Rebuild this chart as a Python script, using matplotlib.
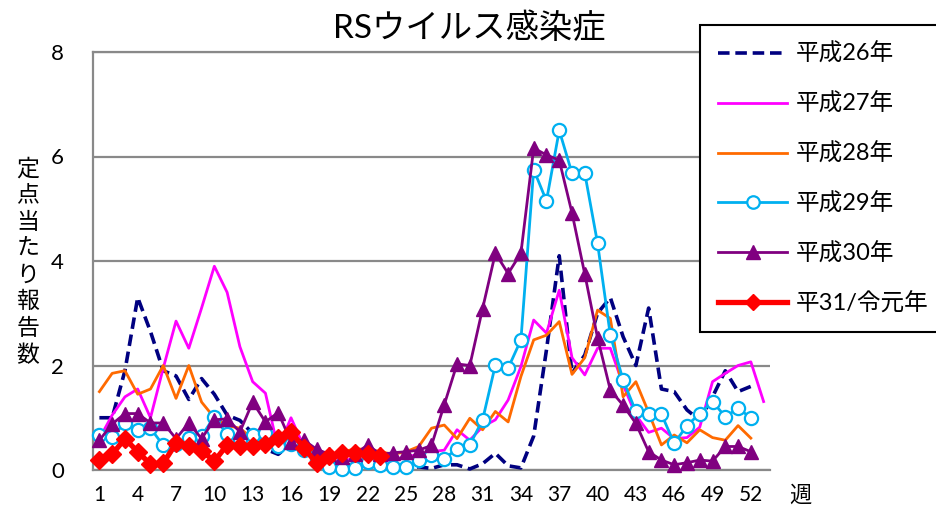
import matplotlib
matplotlib.use('Agg')
import matplotlib.pyplot as plt
import numpy as np
import copy

plt.rcParams['font.family'] = ['Lato', 'Noto Sans CJK JP', 'DejaVu Sans']

# ---- data ----
weeks = list(range(1, 54))
tick_weeks = list(range(1, 53, 3))
title = 'RSウイルス感染症'
ylabel = '定点当たり報告数'
xlabel = '週'
labels = ['平成26年', '平成27年', '平成28年', '平成29年', '平成30年', '平31/令元年']

h26 = [1.0, 1.0, 1.9, 3.3, 2.65, 1.9, 1.8, 1.35, 1.75, 1.45,
       1.05, 0.95, 0.7, 0.4, 0.3, 0.5, 0.35, 0.3, 0.15, 0.1,
       0.1, 0.05, 0.1, 0.05, 0.05, 0.06, 0.03, 0.1, 0.1, 0.02,
       0.12, 0.32, 0.08, 0.04, 0.65, 2.3, 4.1, 1.85, 2.2, 3.0,
       3.3, 2.55, 2.0, 3.1, 1.55, 1.5, 1.15, 0.95, 1.4, 1.9,
       1.5, 1.6]
h27 = [0.6, 1.05, 1.4, 1.55, 1.0, 1.95, 2.85, 2.33, 3.1, 3.9,
       3.4, 2.36, 1.69, 1.47, 0.4, 1.0, 0.45, 0.35, 0.3, 0.2,
       0.2, 0.15, 0.15, 0.2, 0.25, 0.3, 0.35, 0.38, 0.77, 0.57,
       0.83, 0.96, 1.34, 1.98, 2.87, 2.62, 3.44, 2.15, 1.82, 2.33,
       2.33, 1.63, 1.05, 0.72, 0.8, 0.6, 0.62, 0.82, 1.69, 1.85,
       2.0, 2.07, 1.31]
h28 = [1.5, 1.85, 1.9, 1.45, 1.55, 2.0, 1.37, 2.0, 1.3, 1.0,
       0.85, 0.8, 0.6, 0.55, 0.5, 0.45, 0.4, 0.35, 0.3, 0.35,
       0.4, 0.4, 0.35, 0.3, 0.35, 0.45, 0.8, 0.86, 0.6, 0.99,
       0.77, 1.12, 0.92, 1.79, 2.49, 2.58, 2.84, 1.83, 2.15, 3.06,
       2.9, 1.4, 1.69, 1.1, 0.48, 0.67, 0.52, 0.77, 0.62, 0.57,
       0.85, 0.61]
h29 = [0.67, 0.64, 0.9, 0.77, 0.8, 0.47, 0.5, 0.62, 0.65, 1.02,
       0.68, 0.58, 0.67, 0.7, 0.45, 0.5, 0.38, 0.2, 0.06, 0.02,
       0.03, 0.15, 0.1, 0.06, 0.06, 0.19, 0.29, 0.22, 0.4, 0.48,
       0.96, 2.01, 1.95, 2.49, 5.75, 5.15, 6.5, 5.68, 5.68, 4.34,
       2.58, 1.72, 1.12, 1.08, 1.07, 0.51, 0.85, 1.08, 1.31, 1.02,
       1.18, 1.0]
h30 = [0.57, 0.88, 1.08, 1.08, 0.9, 0.9, 0.6, 0.9, 0.6, 0.96,
       0.98, 0.73, 1.3, 0.92, 1.1, 0.54, 0.57, 0.4, 0.3, 0.25,
       0.3, 0.48, 0.3, 0.33, 0.35, 0.38, 0.47, 1.25, 2.03, 2.0,
       3.09, 4.15, 3.76, 4.15, 6.16, 6.03, 5.93, 4.92, 3.75, 2.53,
       1.53, 1.24, 0.89, 0.35, 0.19, 0.1, 0.14, 0.19, 0.17, 0.45,
       0.45, 0.35]
r01 = [0.19, 0.3, 0.6, 0.35, 0.11, 0.13, 0.51, 0.46, 0.37, 0.17,
       0.48, 0.45, 0.45, 0.5, 0.62, 0.73, 0.43, 0.13, 0.27, 0.32,
       0.32, 0.3, 0.27]

W, H = 937, 513
fig = plt.figure(figsize=(W / 100, H / 100), dpi=100)
ax = fig.add_axes([93 / W, 1 - 470 / H, (770 - 93) / W, (470 - 52) / H])

grid_c = '#898989'
ax.set_xlim(0.5, 53.5)
ax.set_ylim(0, 8)
ax.set_yticks([0, 2, 4, 6, 8])
ax.yaxis.grid(True, color=grid_c, lw=1.6, zorder=0)
ax.set_axisbelow(True)
ax.spines['right'].set_visible(False)
for s in ['left', 'bottom', 'top']:
    ax.spines[s].set_color(grid_c)
    ax.spines[s].set_linewidth(1.6)
ax.set_xticks(tick_weeks)
ax.set_xticklabels([str(w) for w in tick_weeks])
ax.tick_params(axis='x', length=0, pad=11, labelsize=15)
ax.tick_params(axis='y', length=0, pad=21, labelsize=16)

def wk(vals):
    return weeks[:len(vals)]

h1, = ax.plot(wk(h26), h26, color='#000080', lw=2.6, ls=(0, (3.2, 1.6)), clip_on=False, zorder=3)
h2, = ax.plot(wk(h27), h27, color='#FF00FF', lw=2.0, clip_on=False, zorder=3)
h3, = ax.plot(wk(h28), h28, color='#FF6A00', lw=2.0, clip_on=False, zorder=3)
h4, = ax.plot(wk(h29), h29, color='#00B0F0', lw=2.0, marker='o', ms=9.5,
              mfc='white', mec='#00B0F0', mew=1.6, clip_on=False, zorder=3)
h5, = ax.plot(wk(h30), h30, color='#800080', lw=2.0, marker='^', ms=10,
              mfc='#800080', mec='#800080', clip_on=False, zorder=3)
h6, = ax.plot(wk(r01), r01, color='#FF0000', lw=3.8, marker='D', ms=9,
              mfc='#FF0000', mec='#FF0000', clip_on=False, zorder=3)

fig.text(469 / W, 1 - 28 / H, title, ha='center', va='center', fontsize=24)
fig.text(28 / W, 1 - 262 / H, '\n'.join(ylabel), ha='center', va='center',
         fontsize=16.5, linespacing=1.32)
fig.text(800 / W, 1 - 495 / H, xlabel, ha='center', va='center', fontsize=16)

lh = [copy.copy(h) for h in [h1, h2, h3, h4, h5, h6]]
lh[3].set_markersize(9)
lh[4].set_markersize(10)
lh[5].set_markersize(8)
leg = fig.legend(lh, labels, loc='upper left', bbox_to_anchor=(700 / W, 1 - 25 / H),
                 bbox_transform=fig.transFigure, frameon=True, fancybox=False,
                 edgecolor='black', fontsize=17, handlelength=2.95, labelspacing=1.17,
                 borderpad=0.75, handletextpad=0.35, borderaxespad=0, framealpha=1)
leg.get_frame().set_linewidth(1.5)
leg.set_zorder(10)

fig.savefig('out.png', dpi=100)
